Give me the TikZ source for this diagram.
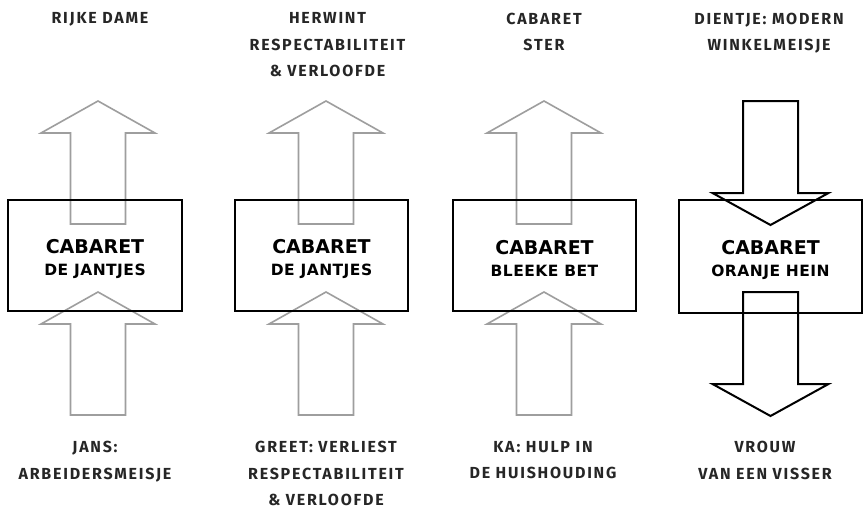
\documentclass[tikz,border=0pt]{standalone}
\usepackage{fontspec}
\newfontfamily\lblfont{Fira Sans}[LetterSpace=11]
\newfontfamily\boxfont{DejaVu Sans}
\newfontfamily\boxfonts{DejaVu Sans}[LetterSpace=3]
\tikzset{
  lbl/.style={font=\lblfont\bfseries\fontsize{16}{26.5}\selectfont, align=center, text=black!85, inner sep=0pt},
  cabbox/.style={draw=black, line width=2.2pt, minimum height=111pt, inner sep=0pt},
  boxlbl/.style={align=center, inner sep=0pt, yshift=-3pt},
  grayarr/.style={draw=black!38, line width=1.6pt, line join=miter},
  blackarr/.style={draw=black, line width=2pt, line join=miter},
}
\newcommand{\uparr}[3]{% style, center x, tip y
  \draw[#1] ({#2-27.5},{#3+123}) -- ({#2-27.5},{#3+32}) -- ({#2-57},{#3+32}) -- (#2,#3)
    -- ({#2+57},{#3+32}) -- ({#2+27.5},{#3+32}) -- ({#2+27.5},{#3+123}) -- cycle;}
\newcommand{\downarr}[3]{% style, center x, top y
  \draw[#1] ({#2-27.5},#3) -- ({#2-27.5},{#3+92}) -- ({#2-58},{#3+92}) -- (#2,{#3+124})
    -- ({#2+58},{#3+92}) -- ({#2+27.5},{#3+92}) -- ({#2+27.5},#3) -- cycle;}
\newcommand{\boxtext}[1]{{\boxfont\fontsize{19}{22}\selectfont\bfseries CABARET}\\[10pt]{\boxfonts\fontsize{15.5}{17}\selectfont\bfseries #1}}
\begin{document}
\begin{tikzpicture}[x=1pt,y=-1pt]
\useasboundingbox[fill=white] (0,0) rectangle (864,509);
% arrows
\uparr{grayarr}{98}{101}
\uparr{grayarr}{98}{292}
\uparr{grayarr}{326}{101}
\uparr{grayarr}{326}{292}
\uparr{grayarr}{544}{101}
\uparr{grayarr}{544}{292}
\downarr{blackarr}{770.5}{101}
\downarr{blackarr}{770.5}{292}
% boxes
\node[cabbox, minimum width=174pt] (b1) at (95,255.5) {};
\node[cabbox, minimum width=173pt] (b2) at (321.5,255.5) {};
\node[cabbox, minimum width=183pt] (b3) at (544.5,255.5) {};
\node[cabbox, minimum width=183pt, minimum height=113pt] (b4) at (770.5,256.5) {};
\node[boxlbl] (c1) at (b1.center) {\boxtext{DE JANTJES}};
\node[boxlbl] (c2) at (b2.center) {\boxtext{DE JANTJES}};
\node[boxlbl] (c3) at (b3.center) {\boxtext{BLEEKE BET}};
\node[boxlbl] (c4) at (b4.center) {\boxtext{ORANJE HEIN}};
% top labels
\node[lbl, anchor=north] (t1) at (100,12.5) {RIJKE DAME};
\node[lbl, anchor=north] (t2) at (327.5,12.5) {HERWINT\\RESPECTABILITEIT\\\& VERLOOFDE};
\node[lbl, anchor=north] (t3) at (544,12.5) {CABARET\\STER};
\node[lbl, anchor=north] (t4) at (769,12.5) {DIENTJE: MODERN\\WINKELMEISJE};
% bottom labels
\node[lbl, anchor=north] (u1) at (95,441) {JANS:\\ARBEIDERSMEISJE};
\node[lbl, anchor=north] (u2) at (326,441) {GREET: VERLIEST\\RESPECTABILITEIT\\\& VERLOOFDE};
\node[lbl, anchor=north] (u3) at (543,441) {KA: HULP IN\\DE HUISHOUDING};
\node[lbl, anchor=north] (u4) at (765,441) {VROUW\\VAN EEN VISSER};
\end{tikzpicture}
\end{document}
